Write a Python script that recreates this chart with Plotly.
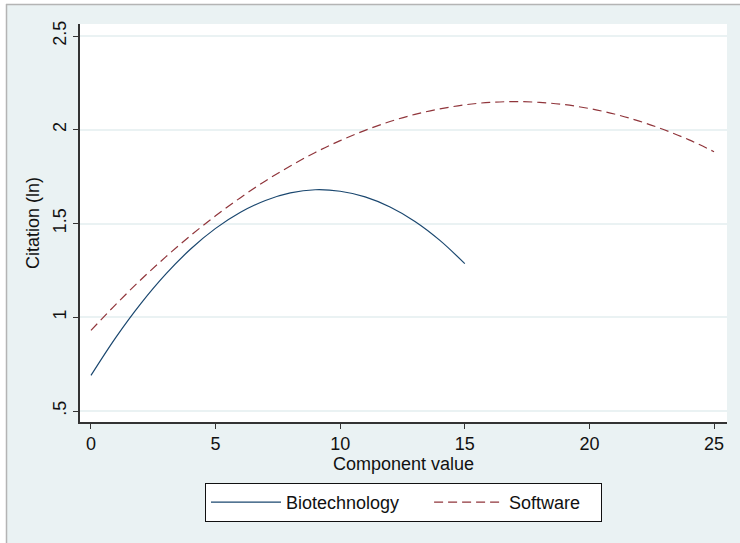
import plotly.graph_objects as go

# ---- data ----
biotech_x = list(range(0, 16))
biotech_y = [0.690, 0.893, 1.073, 1.230, 1.364, 1.474, 1.560, 1.623, 1.663,
             1.680, 1.672, 1.642, 1.588, 1.511, 1.410, 1.286]

software_x = list(range(0, 26))
software_y = [0.930, 1.069, 1.200, 1.322, 1.436, 1.541, 1.638, 1.727, 1.807,
              1.879, 1.942, 1.997, 2.044, 2.082, 2.111, 2.133, 2.146, 2.150,
              2.146, 2.134, 2.113, 2.084, 2.046, 2.000, 1.946, 1.883]

series_names = ["Biotechnology", "Software"]
x_ticks = [0, 5, 10, 15, 20, 25]
y_ticks = [0.5, 1, 1.5, 2, 2.5]
y_tick_labels = [".5", "1", "1.5", "2", "2.5"]

# ---- layout geometry (pixels) ----
W, H = 740, 543
L, R, T, B = 80, 13, 24, 121
pw, ph = W - L - R, H - T - B


def px(x):
    return (x - L) / pw


def py(y):
    return (H - B - y) / ph


FONT = "Liberation Sans, Arial, sans-serif"
BG = "#EAF2F3"
NB = "\u00a0"

fig = go.Figure()
fig.add_trace(go.Scatter(x=biotech_x, y=biotech_y, mode="lines",
                         name=series_names[0] + NB * 5,
                         line=dict(color="#1A476F", width=1.2, shape="spline")))
fig.add_trace(go.Scatter(x=software_x, y=software_y, mode="lines",
                         name=series_names[1] + NB * 3,
                         line=dict(color="#90353B", width=1.2, shape="spline", dash="9px,5px")))

shapes = [
    dict(type="rect", xref="paper", yref="paper", x0=px(0), x1=px(W), y0=py(4), y1=py(0),
         fillcolor="white", line=dict(width=0), layer="below"),
    dict(type="rect", xref="paper", yref="paper", x0=px(0), x1=px(6), y0=py(H), y1=py(0),
         fillcolor="white", line=dict(width=0), layer="below"),
    dict(type="line", xref="paper", yref="paper", x0=px(6), x1=px(W), y0=py(4.5), y1=py(4.5),
         line=dict(color="#B4B4B4", width=1.5)),
    dict(type="line", xref="paper", yref="paper", x0=px(6.5), x1=px(6.5), y0=py(4), y1=py(H),
         line=dict(color="#B4B4B4", width=1.5)),
]

fig.update_layout(
    width=W, height=H,
    margin=dict(l=L, r=R, t=T, b=B, autoexpand=False),
    paper_bgcolor=BG, plot_bgcolor="white",
    font=dict(family=FONT, size=18, color="#111"),
    shapes=shapes,
    showlegend=True,
    legend=dict(orientation="h", x=0.5, xanchor="center", y=py(483), yanchor="top",
                bgcolor="white", bordercolor="#111", borderwidth=1,
                font=dict(size=18, family=FONT), entrywidth=0, entrywidthmode="pixels",
                itemwidth=70, tracegroupgap=0),
    xaxis=dict(range=[-0.44, 25.52], tickvals=x_ticks, showgrid=False, zeroline=False,
               showline=True, linecolor="#333", linewidth=1.5, ticks="outside",
               ticklen=5, tickcolor="#333", tickfont=dict(size=18), automargin=False,
               title=dict(text="Component value", standoff=0, font=dict(size=18))),
    yaxis=dict(range=[0.4415, 2.564], tickvals=y_ticks, ticktext=y_tick_labels,
               tickangle=-90, showgrid=True, gridcolor=BG, gridwidth=1.5, zeroline=False,
               showline=True, linecolor="#333", linewidth=1.5, ticks="outside",
               ticklen=5, tickcolor="#333", tickfont=dict(size=18), automargin=False,
               title=dict(text="Citation (ln)", standoff=6, font=dict(size=18))),
)

fig.write_html("out.html", config={"displayModeBar": False},
               post_script="document.body.style.margin='0';document.body.style.overflow='hidden';")
